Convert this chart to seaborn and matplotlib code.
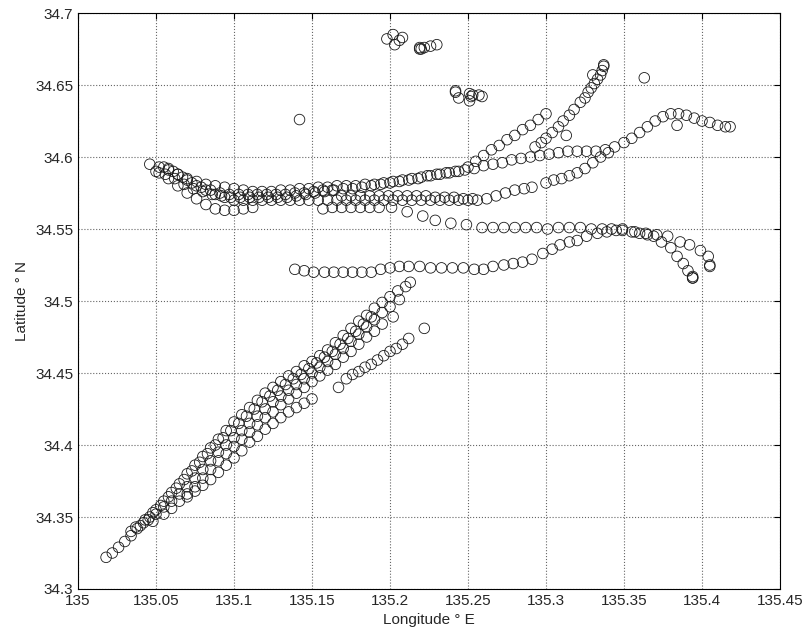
import numpy as np
import pandas as pd
import matplotlib
matplotlib.use('Agg')
import matplotlib.pyplot as plt
from matplotlib.ticker import FuncFormatter
import seaborn as sns

# --- tracks (lon, lat) ---
# south-west diagonal band
a1_lon = [135.018, 135.022, 135.026, 135.030, 135.034, 135.038, 135.042, 135.046, 135.050, 135.055,
          135.060, 135.065, 135.070, 135.075, 135.080, 135.085, 135.090, 135.095, 135.100, 135.105,
          135.110, 135.115, 135.120, 135.125, 135.130, 135.135, 135.140, 135.145, 135.150, 135.155,
          135.160, 135.165, 135.170, 135.175, 135.180, 135.185, 135.190, 135.195, 135.200, 135.205,
          135.210, 135.213]
a1_lat = [34.322, 34.325, 34.329, 34.333, 34.337, 34.342, 34.346, 34.350, 34.355, 34.361,
          34.367, 34.373, 34.380, 34.386, 34.392, 34.398, 34.404, 34.410, 34.416, 34.421,
          34.426, 34.431, 34.436, 34.440, 34.444, 34.448, 34.451, 34.455, 34.458, 34.462,
          34.466, 34.471, 34.476, 34.481, 34.486, 34.490, 34.495, 34.499, 34.503, 34.507,
          34.510, 34.513]

a2_lon = [135.034, 135.040, 135.045, 135.050, 135.055, 135.060, 135.065, 135.070, 135.075, 135.080,
          135.085, 135.090, 135.095, 135.100, 135.105, 135.110, 135.115, 135.120, 135.125, 135.130,
          135.135, 135.140, 135.145, 135.150, 135.155, 135.160, 135.165, 135.170, 135.175, 135.180,
          135.185, 135.190, 135.195, 135.200, 135.206]
a2_lat = [34.340, 34.344, 34.348, 34.352, 34.357, 34.361, 34.366, 34.371, 34.377, 34.383,
          34.389, 34.395, 34.400, 34.405, 34.410, 34.415, 34.420, 34.425, 34.430, 34.434,
          34.438, 34.442, 34.446, 34.450, 34.454, 34.458, 34.463, 34.467, 34.472, 34.477,
          34.482, 34.487, 34.492, 34.496, 34.501]

a3_lon = [135.048, 135.055, 135.060, 135.065, 135.070, 135.075, 135.080, 135.085, 135.090, 135.095,
          135.100, 135.105, 135.110, 135.115, 135.120, 135.125, 135.130, 135.135, 135.140, 135.145,
          135.150, 135.155, 135.160, 135.165, 135.170, 135.175, 135.180, 135.185, 135.190, 135.195,
          135.202]
a3_lat = [34.347, 34.352, 34.356, 34.361, 34.366, 34.371, 34.377, 34.383, 34.389, 34.394,
          34.399, 34.404, 34.409, 34.414, 34.419, 34.423, 34.428, 34.432, 34.436, 34.440,
          34.444, 34.448, 34.452, 34.456, 34.461, 34.465, 34.470, 34.475, 34.479, 34.484,
          34.489]

a4_lon = [135.070, 135.075, 135.080, 135.085, 135.090, 135.095, 135.100, 135.105, 135.110, 135.115,
          135.120, 135.125, 135.130, 135.135, 135.140, 135.145, 135.150]
a4_lat = [34.364, 34.368, 34.372, 34.376, 34.381, 34.386, 34.391, 34.396, 34.402, 34.406,
          34.411, 34.415, 34.419, 34.423, 34.426, 34.429, 34.432]

a5_lon = [135.167, 135.172, 135.176, 135.180, 135.184, 135.188, 135.192, 135.196, 135.200, 135.204,
          135.208, 135.212, 135.222]
a5_lat = [34.440, 34.446, 34.449, 34.451, 34.454, 34.456, 34.459, 34.462, 34.465, 34.467,
          34.470, 34.474, 34.481]

a6_lon = [135.037, 135.043, 135.048, 135.053, 135.058, 135.063, 135.068, 135.073, 135.078, 135.083,
          135.088, 135.093, 135.098, 135.103, 135.108, 135.113, 135.118, 135.123, 135.128, 135.133,
          135.138, 135.143, 135.148, 135.153, 135.158, 135.163, 135.168, 135.173, 135.178, 135.183,
          135.188]
a6_lat = [34.343, 34.348, 34.353, 34.358, 34.364, 34.370, 34.376, 34.382, 34.388, 34.394,
          34.400, 34.405, 34.410, 34.415, 34.420, 34.425, 34.430, 34.434, 34.438, 34.442,
          34.446, 34.449, 34.453, 34.457, 34.461, 34.465, 34.470, 34.474, 34.479, 34.484,
          34.489]

# northern band, west to east
b1_lon = [135.046, 135.052, 135.058, 135.064, 135.070, 135.076, 135.082, 135.088, 135.094, 135.100,
          135.106, 135.112, 135.118, 135.124, 135.130, 135.136, 135.142, 135.148, 135.154, 135.160,
          135.166, 135.172, 135.178, 135.184, 135.190, 135.196, 135.202, 135.208, 135.214, 135.220,
          135.226, 135.232, 135.238, 135.244, 135.250, 135.255, 135.260, 135.265, 135.270, 135.275,
          135.280, 135.285, 135.290, 135.295, 135.300]
b1_lat = [34.595, 34.593, 34.591, 34.588, 34.585, 34.583, 34.581, 34.580, 34.579, 34.578,
          34.577, 34.576, 34.576, 34.576, 34.577, 34.577, 34.578, 34.578, 34.579, 34.579,
          34.580, 34.580, 34.580, 34.581, 34.581, 34.582, 34.583, 34.584, 34.585, 34.586,
          34.587, 34.588, 34.589, 34.590, 34.593, 34.597, 34.601, 34.605, 34.608, 34.612,
          34.615, 34.619, 34.622, 34.626, 34.630]

b2_lon = [135.050, 135.056, 135.062, 135.068, 135.074, 135.080, 135.086, 135.092, 135.098, 135.104,
          135.110, 135.116, 135.122, 135.128, 135.134, 135.140, 135.146, 135.152, 135.158, 135.164,
          135.170, 135.176, 135.182, 135.188, 135.194, 135.200, 135.206, 135.212, 135.218, 135.224,
          135.230, 135.236, 135.242, 135.248, 135.254, 135.260, 135.266, 135.272, 135.278, 135.284,
          135.290, 135.296, 135.302, 135.308, 135.314, 135.320, 135.326, 135.332, 135.338, 135.344,
          135.350, 135.355, 135.360, 135.365, 135.370, 135.375, 135.380, 135.385, 135.390, 135.395,
          135.400, 135.405, 135.410, 135.415, 135.418]
b2_lat = [34.590, 34.588, 34.585, 34.581, 34.578, 34.576, 34.574, 34.573, 34.572, 34.572,
          34.572, 34.572, 34.572, 34.572, 34.572, 34.573, 34.574, 34.575, 34.576, 34.577,
          34.578, 34.578, 34.579, 34.580, 34.581, 34.582, 34.583, 34.584, 34.585, 34.587,
          34.588, 34.589, 34.590, 34.591, 34.592, 34.594, 34.595, 34.596, 34.598, 34.599,
          34.600, 34.601, 34.602, 34.603, 34.604, 34.604, 34.604, 34.604, 34.605, 34.607,
          34.610, 34.613, 34.617, 34.621, 34.625, 34.628, 34.630, 34.630, 34.629, 34.627,
          34.625, 34.624, 34.622, 34.621, 34.621]

b3_lon = [135.058, 135.064, 135.070, 135.076, 135.082, 135.088, 135.094, 135.100, 135.106, 135.112,
          135.118, 135.124, 135.130, 135.136, 135.142, 135.148, 135.154, 135.160, 135.166, 135.172,
          135.178, 135.184, 135.190, 135.196, 135.202, 135.208, 135.214, 135.220, 135.226, 135.232,
          135.238, 135.244, 135.250, 135.256, 135.262, 135.268, 135.274, 135.280, 135.286, 135.291,
          135.300, 135.305, 135.310, 135.315, 135.320, 135.325, 135.330, 135.335, 135.340]
b3_lat = [34.592, 34.588, 34.584, 34.580, 34.577, 34.574, 34.572, 34.570, 34.570, 34.570,
          34.570, 34.570, 34.570, 34.570, 34.570, 34.570, 34.570, 34.570, 34.570, 34.570,
          34.570, 34.570, 34.570, 34.570, 34.570, 34.570, 34.570, 34.570, 34.570, 34.570,
          34.570, 34.570, 34.570, 34.570, 34.571, 34.573, 34.575, 34.577, 34.578, 34.579,
          34.582, 34.584, 34.585, 34.587, 34.589, 34.592, 34.596, 34.600, 34.603]

b4_lon = [135.052, 135.058, 135.064, 135.070, 135.076, 135.082, 135.088, 135.094, 135.100, 135.106,
          135.112, 135.157, 135.163, 135.169, 135.175, 135.181, 135.187, 135.193, 135.201, 135.211,
          135.221, 135.229, 135.239, 135.249, 135.259, 135.266, 135.273, 135.280, 135.287, 135.294,
          135.301, 135.308, 135.315, 135.322, 135.329, 135.336, 135.342, 135.349, 135.357, 135.364,
          135.371, 135.378, 135.386, 135.392, 135.399, 135.404, 135.405]
b4_lat = [34.589, 34.585, 34.580, 34.575, 34.571, 34.567, 34.564, 34.563, 34.563, 34.564,
          34.565, 34.564, 34.565, 34.565, 34.565, 34.565, 34.565, 34.565, 34.565, 34.562,
          34.559, 34.556, 34.554, 34.553, 34.551, 34.551, 34.551, 34.551, 34.551, 34.551,
          34.550, 34.551, 34.551, 34.551, 34.550, 34.550, 34.550, 34.550, 34.548, 34.547,
          34.546, 34.545, 34.541, 34.539, 34.535, 34.531, 34.525]

b5_lon = [135.139, 135.145, 135.151, 135.158, 135.164, 135.170, 135.176, 135.182, 135.188, 135.194,
          135.200, 135.206, 135.212, 135.219, 135.226, 135.233, 135.240, 135.247, 135.254, 135.260,
          135.266, 135.273, 135.279, 135.285, 135.291, 135.298, 135.304, 135.309, 135.315, 135.320,
          135.326, 135.333, 135.339, 135.345, 135.349, 135.355, 135.360, 135.365, 135.369, 135.374,
          135.380, 135.384, 135.388, 135.391, 135.394, 135.394]
b5_lat = [34.522, 34.521, 34.520, 34.520, 34.520, 34.520, 34.520, 34.520, 34.520, 34.522,
          34.523, 34.524, 34.524, 34.524, 34.523, 34.523, 34.523, 34.523, 34.522, 34.522,
          34.524, 34.525, 34.526, 34.527, 34.529, 34.533, 34.536, 34.539, 34.541, 34.542,
          34.545, 34.547, 34.548, 34.549, 34.549, 34.548, 34.547, 34.546, 34.545, 34.541,
          34.537, 34.531, 34.526, 34.521, 34.516, 34.517]

b6_lon = [135.055, 135.061, 135.067, 135.073, 135.079, 135.085, 135.091, 135.097, 135.103, 135.109,
          135.115, 135.121, 135.127, 135.133, 135.139, 135.145, 135.151, 135.157, 135.163, 135.169,
          135.175, 135.181, 135.187, 135.193, 135.199, 135.205, 135.211, 135.217, 135.223, 135.229,
          135.235, 135.241, 135.247, 135.253]
b6_lat = [34.593, 34.590, 34.586, 34.582, 34.579, 34.577, 34.575, 34.574, 34.574, 34.574,
          34.574, 34.574, 34.574, 34.574, 34.575, 34.575, 34.576, 34.577, 34.577, 34.573,
          34.573, 34.573, 34.573, 34.573, 34.573, 34.573, 34.573, 34.573, 34.573, 34.572,
          34.572, 34.572, 34.571, 34.571]

# steep track to the north-east
d_lon = [135.293, 135.297, 135.300, 135.304, 135.308, 135.311, 135.315, 135.318, 135.322, 135.325,
         135.327, 135.329, 135.331, 135.333, 135.335, 135.336, 135.337, 135.330]
d_lat = [34.607, 34.610, 34.613, 34.617, 34.621, 34.625, 34.629, 34.633, 34.638, 34.641,
         34.645, 34.648, 34.651, 34.654, 34.657, 34.660, 34.663, 34.657]

# isolated points and small clusters
e_lon = [135.198, 135.202, 135.203, 135.206, 135.208, 135.219, 135.220, 135.222, 135.226, 135.230,
         135.242, 135.244, 135.251, 135.251, 135.253, 135.257, 135.259, 135.252, 135.242,
         135.142, 135.313, 135.363, 135.384, 135.219, 135.337, 135.405, 135.394]
e_lat = [34.682, 34.685, 34.678, 34.681, 34.683, 34.676, 34.675, 34.676, 34.677, 34.678,
         34.645, 34.641, 34.644, 34.639, 34.643, 34.643, 34.642, 34.642, 34.646,
         34.626, 34.615, 34.655, 34.622, 34.675, 34.664, 34.524, 34.516]

tracks = [(a1_lon, a1_lat), (a2_lon, a2_lat), (a3_lon, a3_lat), (a4_lon, a4_lat), (a5_lon, a5_lat),
          (a6_lon, a6_lat), (b1_lon, b1_lat), (b2_lon, b2_lat), (b3_lon, b3_lat), (b4_lon, b4_lat),
          (b5_lon, b5_lat), (b6_lon, b6_lat), (d_lon, d_lat), (e_lon, e_lat)]
df = pd.concat([pd.DataFrame({'lon': lo, 'lat': la}) for lo, la in tracks], ignore_index=True)

sns.set_style('white')
plt.rcParams['font.family'] = ['Liberation Sans', 'DejaVu Sans']

fig = plt.figure(figsize=(8.1, 6.39), dpi=100)
ax = fig.add_axes([78 / 810, 50 / 639, 702 / 810, 576 / 639])

sns.scatterplot(data=df, x='lon', y='lat', ax=ax, marker='o', s=58,
                facecolors='none', edgecolor='#1a1a1a', linewidth=0.6, legend=False)

ax.set_xlim(135, 135.45)
ax.set_ylim(34.3, 34.7)
ax.set_xticks(np.arange(135, 135.451, 0.05))
ax.set_yticks(np.arange(34.3, 34.701, 0.05))
fmt = FuncFormatter(lambda v, p: '%g' % round(v, 2))
ax.xaxis.set_major_formatter(fmt)
ax.yaxis.set_major_formatter(fmt)
ax.tick_params(direction='in', length=4, labelsize=11, top=True, right=True, color='black')
ax.grid(True, linestyle=':', color='#666666', linewidth=0.8)
for sp in ax.spines.values():
    sp.set_color('black')
    sp.set_linewidth(0.8)

ax.set_xlabel('Longitude ° E', fontsize=11)
ax.set_ylabel('Latitude ° N', fontsize=11)

fig.savefig('out.png', dpi=100)
